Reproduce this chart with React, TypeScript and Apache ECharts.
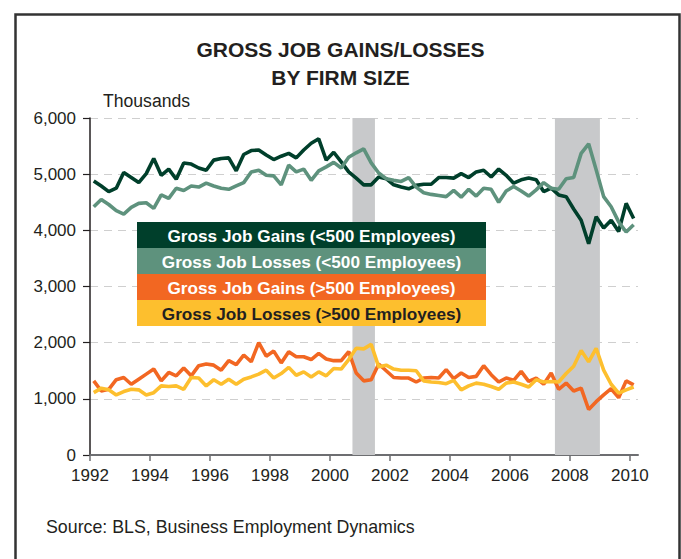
import React, { useEffect, useRef } from "react";
import * as echarts from "echarts";

const TITLE = "GROSS JOB GAINS/LOSSES\nBY FIRM SIZE";
const UNIT_LABEL = "Thousands";
const SOURCE = "Source: BLS, Business Employment Dynamics";

// quarterly observations, first one plotted at 1992.125
const FIRST_QUARTER = 1992.125;
const QUARTER_STEP = 0.25;

const xTickYears = [1992, 1994, 1996, 1998, 2000, 2002, 2004, 2006, 2008, 2010];

const seriesNames = [
  "Gross Job Gains (<500 Employees)",
  "Gross Job Losses (<500 Employees)",
  "Gross Job Gains (>500 Employees)",
  "Gross Job Losses (>500 Employees)",
];

const seriesColors = ["#003f2b", "#5e927d", "#f26722", "#fdbf2e"];
const legendTextColors = ["#ffffff", "#ffffff", "#ffffff", "#231f20"];

const gainsSmall = [
  4880, 4790, 4690, 4750, 5030, 4940, 4850, 5010, 5280, 4980,
  5090, 4910, 5200, 5180, 5110, 5070, 5250, 5280, 5290, 5060,
  5350, 5420, 5430, 5340, 5260, 5320, 5370, 5290, 5430, 5550,
  5630, 5250, 5390, 5220, 5040, 4930, 4810, 4810, 4950, 4920,
  4810, 4770, 4740, 4800, 4820, 4820, 4940, 4940, 4930, 5010,
  4940, 5040, 5070, 4950, 5090, 4980, 4840, 4900, 4930, 4900,
  4690, 4750, 4630, 4600, 4380, 4180, 3760, 4240, 4040, 4180,
  3980, 4480, 4210,
];

const lossesSmall = [
  4420, 4550, 4460, 4350, 4290, 4410, 4480, 4490, 4390, 4630,
  4570, 4750, 4710, 4790, 4770, 4840, 4790, 4750, 4730, 4790,
  4850, 5040, 5070, 4980, 4970, 4810, 5160, 5040, 5090, 4890,
  5060, 5130, 5210, 5110, 5300, 5380, 5450, 5200, 5020, 4920,
  4890, 4870, 4940, 4770, 4670, 4640, 4620, 4600, 4710, 4590,
  4730, 4610, 4750, 4730, 4500, 4700, 4780, 4700, 4610, 4720,
  4850, 4750, 4730, 4920, 4940, 5370, 5540, 5080, 4600, 4420,
  4150, 3970, 4100,
];

const gainsLarge = [
  1320, 1140, 1170, 1340, 1380, 1260, 1350, 1440, 1530, 1320,
  1470, 1410, 1550, 1410, 1590, 1620, 1600, 1510, 1680, 1610,
  1780, 1660, 2000, 1760, 1850, 1640, 1840, 1750, 1750, 1700,
  1810, 1710, 1680, 1680, 1840, 1460, 1320, 1340, 1620, 1500,
  1380, 1370, 1370, 1300, 1370, 1380, 1370, 1520, 1360, 1460,
  1380, 1400, 1590, 1430, 1300, 1370, 1330, 1490, 1310, 1370,
  1260, 1460, 1170, 1280, 1140, 1190, 810, 950, 1070, 1180,
  1020, 1320, 1250,
];

const lossesLarge = [
  1110, 1190, 1160, 1070, 1130, 1170, 1160, 1070, 1110, 1230,
  1220, 1230, 1170, 1380, 1370, 1230, 1340, 1260, 1350, 1260,
  1350, 1390, 1440, 1510, 1370, 1450, 1560, 1420, 1480, 1390,
  1480, 1410, 1540, 1530, 1700, 1900, 1890, 1970, 1570, 1600,
  1530, 1510, 1510, 1500, 1320, 1300, 1290, 1270, 1330, 1160,
  1230, 1280, 1260, 1220, 1170, 1280, 1300, 1260, 1210, 1340,
  1300, 1310, 1300, 1450, 1580, 1860, 1660, 1900, 1510, 1260,
  1100, 1160, 1210,
];

const recessions = [
  [2000.75, 2001.5],
  [2007.5, 2009.0],
];

const allSeries = [gainsSmall, lossesSmall, gainsLarge, lossesLarge];

const FONT = "'Liberation Sans', Arial, Helvetica, sans-serif";

export default function App() {
  const ref = useRef<HTMLDivElement>(null);

  useEffect(() => {
    if (!ref.current) return;
    const chart = echarts.init(ref.current, null, { renderer: "svg" });

    const toPairs = (vals: number[]) =>
      vals.map((v, i) => [FIRST_QUARTER + i * QUARTER_STEP, v]);

    const lineSeries = allSeries.map((vals, k) => ({
      name: seriesNames[k],
      type: "line",
      data: toPairs(vals),
      showSymbol: false,
      symbol: "none",
      z: 3 + k,
      lineStyle: { color: seriesColors[k], width: 3.6 },
      itemStyle: { color: seriesColors[k] },
    }));

    const legendTop = 222;
    const rowH = 26;
    const legendLeft = 137;
    const legendW = 349;
    const legendGraphics: any[] = [];
    seriesNames.forEach((name, k) => {
      legendGraphics.push({
        type: "rect",
        left: legendLeft,
        top: legendTop + k * rowH,
        shape: { width: legendW, height: rowH },
        style: { fill: seriesColors[k] },
        z: 100,
      });
      legendGraphics.push({
        type: "text",
        x: legendLeft + legendW / 2,
        y: legendTop + k * rowH + rowH / 2 + 1,
        style: {
          text: name,
          fill: legendTextColors[k],
          font: `bold 17.2px ${FONT}`,
          textAlign: "center",
          textVerticalAlign: "middle",
        },
        z: 101,
      });
    });

    chart.setOption({
      animation: false,
      backgroundColor: "#ffffff",
      title: {
        text: TITLE,
        left: "center",
        top: 30,
        textStyle: {
          fontFamily: FONT,
          fontWeight: "bold",
          fontSize: 21,
          lineHeight: 28,
          color: "#231f20",
        },
      },
      grid: { left: 90, right: 43, top: 118, bottom: 104, containLabel: false },
      xAxis: {
        type: "value",
        min: 1992,
        max: 2010.27,
        axisLine: { show: true, lineStyle: { color: "#6d6e71", width: 2 } },
        axisTick: {
          show: true,
          customValues: xTickYears,
          length: 6,
          lineStyle: { color: "#6d6e71", width: 1.5 },
        },
        axisLabel: {
          customValues: xTickYears,
          fontFamily: FONT,
          fontSize: 17,
          color: "#231f20",
          margin: 12,
          formatter: (v: number) => String(Math.round(v)),
        },
        splitLine: { show: false },
      },
      yAxis: {
        type: "value",
        min: 0,
        max: 6000,
        interval: 1000,
        axisLine: { show: true, lineStyle: { color: "#231f20", width: 1.5 } },
        axisTick: { show: true, length: 7, lineStyle: { color: "#231f20", width: 1.2 } },
        axisLabel: {
          fontFamily: FONT,
          fontSize: 17,
          color: "#231f20",
          margin: 14,
          formatter: (v: number) => v.toLocaleString("en-US"),
        },
        splitLine: {
          show: true,
          lineStyle: { color: "#cfcfcf", width: 1.2, type: [8, 6] },
        },
      },
      graphic: [
        {
          type: "rect",
          left: 13,
          top: 12,
          shape: { width: 664, height: 600 },
          style: { fill: "none", stroke: "#333333", lineWidth: 2.5 },
          z: 0,
          silent: true,
        },
        {
          type: "text",
          x: 103,
          y: 101,
          style: {
            text: UNIT_LABEL,
            fill: "#231f20",
            font: `17.6px ${FONT}`,
            textVerticalAlign: "middle",
          },
        },
        {
          type: "text",
          x: 46,
          y: 527,
          style: {
            text: SOURCE,
            fill: "#231f20",
            font: `17.8px ${FONT}`,
            textVerticalAlign: "middle",
          },
        },
        ...legendGraphics,
      ],
      series: [
        {
          name: "recessions",
          type: "line",
          data: [],
          z: 1,
          markArea: {
            silent: true,
            itemStyle: { color: "#c8c9cb" },
            data: recessions.map(([a, b]) => [{ xAxis: a }, { xAxis: b }]),
          },
        },
        ...lineSeries,
      ],
    });

    return () => chart.dispose();
  }, []);

  return (
    <div
      ref={ref}
      style={{ position: "fixed", left: 0, top: 0, width: 681, height: 559 }}
    />
  );
}
